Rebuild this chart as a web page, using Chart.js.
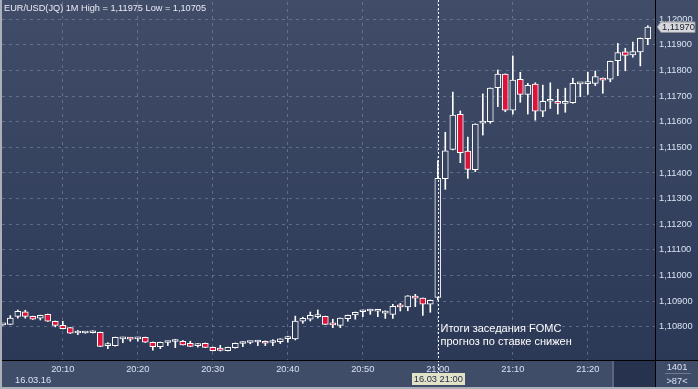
<!DOCTYPE html>
<html>
<head>
<meta charset="utf-8">
<script src="https://cdn.jsdelivr.net/npm/chart.js@4.4.1/dist/chart.umd.min.js"></script>
<style>
html,body{margin:0;padding:0;background:#2e3b58;overflow:hidden;}
canvas{display:block;}
</style>
</head>
<body>
<canvas id="chart" width="698" height="389"></canvas>
<script>
// EUR/USD 1-minute candles, 16.03.16, 20:02 - 21:28
const times = [
  '20:02','20:03','20:04','20:05','20:06','20:07','20:08','20:09','20:10','20:11',
  '20:12','20:13','20:14','20:15','20:16','20:17','20:18','20:19','20:20','20:21',
  '20:22','20:23','20:24','20:25','20:26','20:27','20:28','20:29','20:30','20:31',
  '20:32','20:33','20:34','20:35','20:36','20:37','20:38','20:39','20:40','20:41',
  '20:42','20:43','20:44','20:45','20:46','20:47','20:48','20:49','20:50','20:51',
  '20:52','20:53','20:54','20:55','20:56','20:57','20:58','20:59','21:00','21:01',
  '21:02','21:03','21:04','21:05','21:06','21:07','21:08','21:09','21:10','21:11',
  '21:12','21:13','21:14','21:15','21:16','21:17','21:18','21:19','21:20','21:21',
  '21:22','21:23','21:24','21:25','21:26','21:27','21:28'
];
const opens = [
  1.10807,1.10809,1.10840,1.10858,1.10840,1.10833,1.10848,1.10821,1.10805,1.10796,
  1.10775,1.10775,1.10776,1.10778,1.10726,1.10726,1.10752,1.10757,1.10752,1.10758,
  1.10739,1.10722,1.10738,1.10742,1.10743,1.10735,1.10726,1.10735,1.10719,1.10716,
  1.10706,1.10718,1.10734,1.10738,1.10740,1.10743,1.10738,1.10741,1.10753,1.10752,
  1.10821,1.10829,1.10839,1.10840,1.10813,1.10805,1.10831,1.10846,1.10858,1.10861,
  1.10860,1.10853,1.10848,1.10883,1.10877,1.10918,1.10911,1.10888,1.10914,1.11378,
  1.11492,1.11629,1.11485,1.11413,1.11594,1.11600,1.11733,1.11786,1.11645,1.11766,
  1.11707,1.11747,1.11641,1.11680,1.11680,1.11672,1.11674,1.11748,1.11749,1.11750,
  1.11770,1.11766,1.11838,1.11873,1.11861,1.11873,1.11924
];
const highs = [
  1.10810,1.10843,1.10865,1.10864,1.10841,1.10845,1.10849,1.10822,1.10821,1.10797,
  1.10785,1.10778,1.10784,1.10779,1.10737,1.10759,1.10759,1.10758,1.10759,1.10759,
  1.10740,1.10740,1.10741,1.10750,1.10746,1.10743,1.10734,1.10736,1.10720,1.10727,
  1.10720,1.10736,1.10741,1.10741,1.10746,1.10744,1.10749,1.10753,1.10763,1.10841,
  1.10837,1.10857,1.10865,1.10841,1.10829,1.10834,1.10845,1.10857,1.10865,1.10868,
  1.10862,1.10862,1.10887,1.10891,1.10921,1.10926,1.10912,1.10904,1.11448,1.11559,
  1.11716,1.11642,1.11540,1.11592,1.11709,1.11732,1.11802,1.11787,1.11857,1.11793,
  1.11750,1.11752,1.11743,1.11752,1.11727,1.11731,1.11770,1.11751,1.11794,1.11798,
  1.11771,1.11837,1.11906,1.11887,1.11911,1.11927,1.11975
];
const lows = [
  1.10806,1.10808,1.10833,1.10833,1.10828,1.10826,1.10820,1.10799,1.10791,1.10773,
  1.10769,1.10774,1.10775,1.10722,1.10714,1.10724,1.10737,1.10743,1.10743,1.10738,
  1.10708,1.10714,1.10726,1.10718,1.10728,1.10722,1.10720,1.10718,1.10705,1.10705,
  1.10705,1.10716,1.10722,1.10733,1.10726,1.10726,1.10726,1.10734,1.10739,1.10748,
  1.10813,1.10822,1.10833,1.10808,1.10796,1.10796,1.10821,1.10829,1.10839,1.10848,
  1.10839,1.10832,1.10832,1.10861,1.10862,1.10878,1.10844,1.10856,1.10904,1.11336,
  1.11490,1.11440,1.11379,1.11405,1.11548,1.11594,1.11659,1.11639,1.11630,1.11676,
  1.11630,1.11606,1.11620,1.11652,1.11630,1.11637,1.11672,1.11698,1.11707,1.11741,
  1.11711,1.11756,1.11780,1.11799,1.11852,1.11818,1.11901
];
const closes = [
  1.10809,1.10833,1.10860,1.10840,1.10829,1.10844,1.10821,1.10805,1.10792,1.10774,
  1.10778,1.10777,1.10778,1.10723,1.10729,1.10758,1.10758,1.10751,1.10758,1.10739,
  1.10722,1.10739,1.10740,1.10744,1.10729,1.10723,1.10728,1.10719,1.10706,1.10707,
  1.10719,1.10735,1.10740,1.10740,1.10745,1.10735,1.10740,1.10752,1.10755,1.10822,
  1.10832,1.10844,1.10845,1.10809,1.10807,1.10833,1.10844,1.10856,1.10864,1.10863,
  1.10862,1.10861,1.10879,1.10877,1.10920,1.10911,1.10888,1.10903,1.11379,1.11486,
  1.11626,1.11479,1.11414,1.11591,1.11603,1.11731,1.11786,1.11645,1.11763,1.11707,
  1.11742,1.11641,1.11680,1.11688,1.11672,1.11674,1.11750,1.11750,1.11751,1.11776,
  1.11762,1.11836,1.11870,1.11859,1.11874,1.11926,1.11970
];
const timeTicks = ['20:10','20:20','20:30','20:40','20:50','21:00','21:10','21:20'];
const priceTicks = [1.108,1.109,1.110,1.111,1.112,1.113,1.114,1.115,1.116,1.117,1.118,1.119,1.120];
const title = 'EUR/USD(JQ) 1M High = 1,11975 Low = 1,10705';
const noteLines = ['Итоги заседания FOMC', 'прогноз по ставке снижен'];
const eventTime = '21:00';
const lastPrice = 1.11970;

const FONT = "'Liberation Sans', Arial, sans-serif";
const TXT = '#d8e2f2';
const GRID = 'rgba(135,152,186,0.5)';

const toMin = t => { const [h,m] = t.split(':').map(Number); return (h-20)*60+m; };
const fmtMin = v => (20+Math.floor(v/60)) + ':' + String(v%60).padStart(2,'0');
const fmtPrice = v => v.toFixed(5).replace('.', ',');
const mins = times.map(toMin);

let plotGrad;
function getGrad(ctx) {
  if (!plotGrad) {
    plotGrad = ctx.createLinearGradient(0,0,0,360);
    plotGrad.addColorStop(0,'#414d68');
    plotGrad.addColorStop(1,'#2b3856');
  }
  return plotGrad;
}

const decor = {
  id:'decor',
  beforeDraw(chart) {
    const c = chart.ctx;
    c.save();
    c.fillStyle = getGrad(c); c.fillRect(0,0,698,360);
    c.fillStyle = '#404d69'; c.fillRect(0,361,655,28);
    c.fillStyle = '#5a6680'; c.fillRect(612,361,2,28);
    c.fillStyle = '#26324e'; c.fillRect(614,361,41,28);
    c.fillStyle = '#3f4c68'; c.fillRect(656,361,42,28);
    c.restore();
  },
  afterDatasetsDraw(chart) {
    const c = chart.ctx;
    const x = Math.round(chart.scales.x.getPixelForValue(toMin(eventTime))) + 0.5;
    c.save();
    c.strokeStyle = '#ffffff'; c.lineWidth = 1; c.setLineDash([2,2]);
    c.beginPath(); c.moveTo(x,0); c.lineTo(x,373); c.stroke();
    c.setLineDash([]);
    c.fillStyle = '#ffffff'; c.font = '11px ' + FONT; c.textBaseline = 'middle'; c.textAlign = 'left';
    c.fillText(noteLines[0], x+2, 329);
    c.fillText(noteLines[1], x+2, 342);
    c.restore();
  },
  afterDraw(chart) {
    const c = chart.ctx;
    c.save();
    // frame lines
    c.fillStyle = '#000000';
    c.fillRect(655,0,1,389);
    c.fillRect(0,360,698,1);
    c.fillStyle = '#aab0ba';
    c.fillRect(0,0,2,389);
    c.fillRect(0,387,698,2);
    // title
    c.fillStyle = '#e8ecf4'; c.font = '9.2px ' + FONT; c.textBaseline = 'middle'; c.textAlign = 'left';
    c.fillText(title, 4, 8);
    // last price marker
    const py = chart.scales.y.getPixelForValue(lastPrice);
    c.beginPath();
    c.moveTo(657,py); c.lineTo(661,py-5); c.lineTo(695,py-5); c.lineTo(695,py+5.5); c.lineTo(661,py+5.5); c.closePath();
    c.fillStyle = '#d6d8dc'; c.fill();
    c.strokeStyle = '#8c9098'; c.lineWidth = 1; c.stroke();
    c.fillStyle = '#1c2230'; c.font = '9.3px ' + FONT;
    c.fillText(fmtPrice(lastPrice), 662, py+0.5);
    // date strip
    c.fillStyle = TXT; c.font = '9.3px ' + FONT;
    c.fillText('16.03.16', 15, 380);
    const ex = chart.scales.x.getPixelForValue(toMin(eventTime));
    c.fillStyle = '#e2e2c8'; c.fillRect(Math.round(ex) - 26, 373, 53, 12);
    c.fillStyle = '#1e2a40'; c.textAlign = 'center';
    c.fillText('16.03 ' + eventTime, ex + 0.5, 379.5);
    // corner box
    c.fillStyle = TXT;
    c.fillText('1401', 677, 367);
    c.fillText('>87<', 677, 381);
    c.fillStyle = '#6e7990'; c.fillRect(665,373,26,1);
    c.restore();
  }
};

new Chart(document.getElementById('chart'), {
  type:'bar',
  data:{
    datasets:[
      {
        label:'body',
        data: mins.map((m,i)=>({x:m, y:[opens[i], closes[i]]})),
        backgroundColor: ctx => {
          const i = ctx.dataIndex;
          return closes[i] < opens[i] ? '#dc143c' : getGrad(ctx.chart.ctx);
        },
        borderColor:'#ffffff', borderWidth:1, borderSkipped:false,
        barThickness:6, minBarLength:2, grouped:false
      },
      {
        label:'wick',
        data: mins.map((m,i)=>({x:m, y:[lows[i], highs[i]]})),
        backgroundColor:'#ffffff', borderWidth:0,
        barThickness:1, grouped:false
      }
    ]
  },
  options:{
    responsive:false, animation:false, devicePixelRatio:1,
    layout:{padding:{left:2, top:2, right:0, bottom:0}},
    plugins:{legend:{display:false}, tooltip:{enabled:false}},
    scales:{
      x:{
        type:'linear', min:1.893, max:88.96, offset:false,
        afterFit(s){ s.height = 29; s.paddingLeft = 0; s.paddingRight = 0; },
        afterBuildTicks(s){ s.ticks = timeTicks.map(t=>({value:toMin(t)})); },
        ticks:{callback:v=>fmtMin(v), color:TXT, font:{size:9.3, family:FONT}, padding:4, maxRotation:0, autoSkip:false},
        grid:{color:GRID, drawTicks:false, lineWidth:1, offset:false},
        border:{display:false, dash:[3,4]}
      },
      y:{
        position:'right', min:1.106697, max:1.1206755,
        afterFit(s){ s.width = 43; s.paddingTop = 0; s.paddingBottom = 0; },
        afterBuildTicks(s){ s.ticks = priceTicks.map(v=>({value:v})); },
        ticks:{callback:v=>fmtPrice(v), color:TXT, font:{size:9.3, family:FONT}, padding:4},
        grid:{color:GRID, drawTicks:false, lineWidth:1},
        border:{display:false, dash:[3,4]}
      }
    }
  },
  plugins:[decor]
});
</script>
</body>
</html>
